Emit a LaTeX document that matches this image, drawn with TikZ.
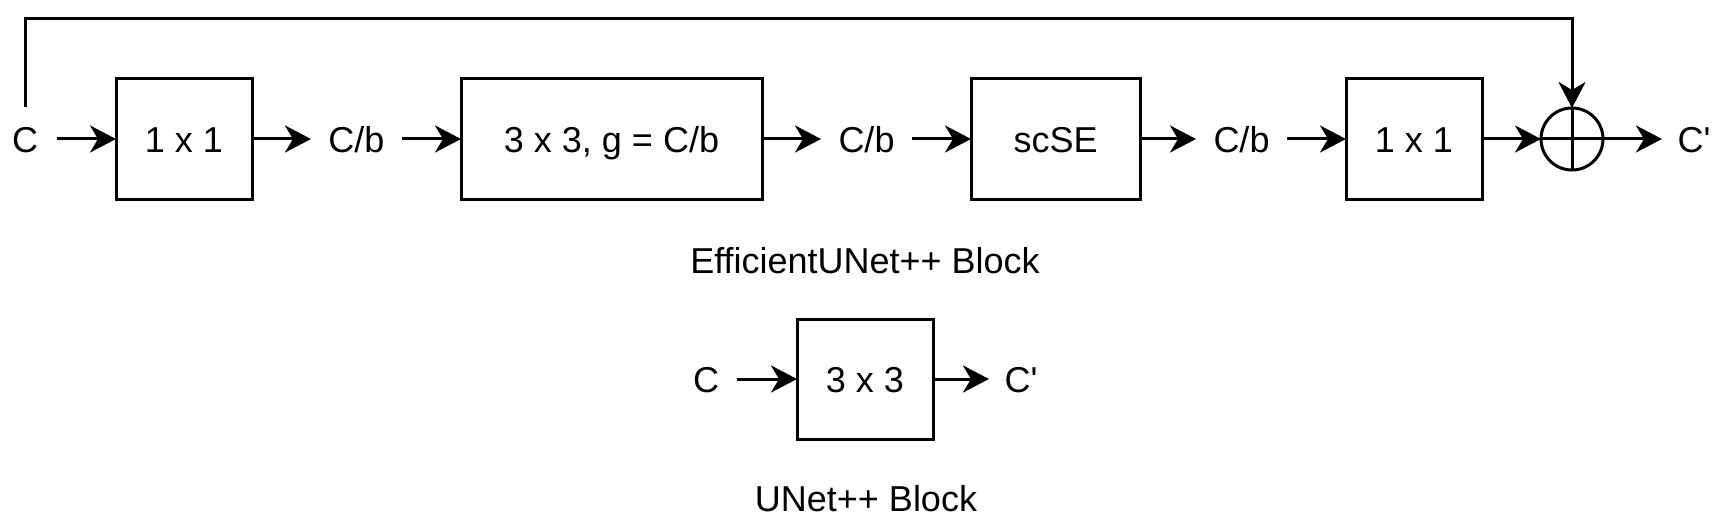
\documentclass[tikz,border=0pt]{standalone}
\usepackage{fontspec}
\setmainfont{Liberation Sans}
\usetikzlibrary{arrows.meta,shapes.geometric}
\newcommand{\cprime}{C\textquotesingle}
\begin{document}
\begin{tikzpicture}[x=1pt,y=-1pt,
  every node/.style={font=\fontsize{36}{43}\selectfont, text height=26pt, text depth=0pt, outer sep=0pt},
  lbl/.style={inner xsep=17.5pt, inner ysep=4pt},
  blk/.style={draw, line width=3pt, minimum height=120pt, inner sep=0pt},
  arr/.style={line width=3pt, -{Stealth[length=26pt,width=27pt,inset=8pt]}},
  wire/.style={line width=3pt}]
\useasboundingbox (0,0) rectangle (1726,532);
% EfficientUNet++ block
\node[lbl, inner xsep=19pt, inner ysep=18.5pt] (cin) at (25,139) {C};
\node[blk, minimum width=136pt] (b1) at (184,139) {1 x 1};
\node[lbl] (cb1) at (356.5,139) {C/b};
\node[blk, minimum width=301pt] (b2) at (611.5,139) {3 x 3, g = C/b};
\node[lbl] (cb2) at (866.5,139) {C/b};
\node[blk, minimum width=169pt] (b3) at (1055.5,139) {scSE};
\node[lbl] (cb3) at (1241.5,139) {C/b};
\node[blk, minimum width=136pt] (b4) at (1414,139) {1 x 1};
\node[draw, circle, line width=3pt, minimum size=62pt, inner sep=0pt] (plus) at (1572,139) {};
\node[lbl, inner xsep=15.6pt] (cout) at (1694,139) {\cprime};
\coordinate (skip) at (26,19);
\draw[wire] (plus.north) -- (plus.south) (plus.west) -- (plus.east);
\draw[arr] (cin) -- (b1);
\draw[arr] (b1) -- (cb1);
\draw[arr] (cb1) -- (b2);
\draw[arr] (b2) -- (cb2);
\draw[arr] (cb2) -- (b3);
\draw[arr] (b3) -- (cb3);
\draw[arr] (cb3) -- (b4);
\draw[arr] (b4) -- (plus.west);
\draw[arr] (plus.east) -- (cout);
\draw[arr] (cin.north) -- (cin.north |- skip) -| (plus.north);
\node (t1) at (865,260) {EfficientUNet++ Block};
% UNet++ block
\node[lbl, inner xsep=18pt] (uc) at (706,379) {C};
\node[blk, minimum width=136pt] (b5) at (865,379) {3 x 3};
\node[lbl, inner xsep=15.6pt] (uout) at (1021,379) {\cprime};
\draw[arr] (uc) -- (b5);
\draw[arr] (b5) -- (uout);
\node (t2) at (866,498) {UNet++ Block};
\end{tikzpicture}
\end{document}
